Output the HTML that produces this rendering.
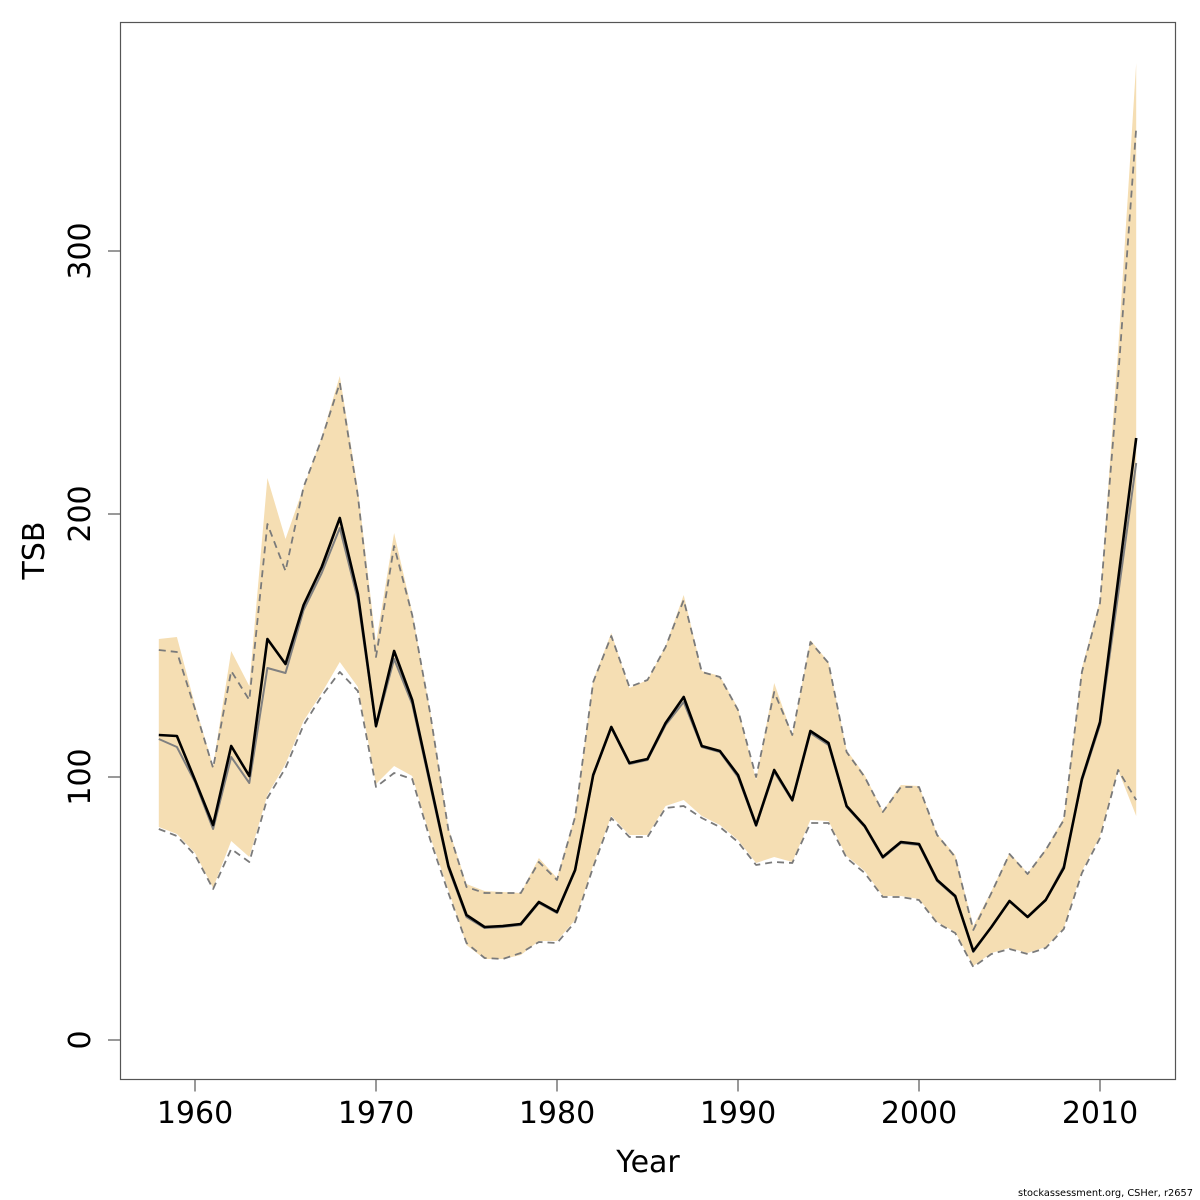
<!DOCTYPE html>
<html>
<head>
<meta charset="utf-8">
<style>
  html, body { margin:0; padding:0; background:#ffffff; }
  svg { display:block; }
  text { font-family: "DejaVu Sans", "Liberation Sans", sans-serif; fill:#000; }
</style>
</head>
<body>
<svg width="1200" height="1200" viewBox="0 0 1200 1200" xmlns="http://www.w3.org/2000/svg">
  <rect x="0" y="0" width="1200" height="1200" fill="#ffffff"/>

  <!-- confidence band fill -->
  <polygon fill="#F5DEB3" stroke="none" points="158.8,639 176.9,637 195,705 213.1,766 231.2,651 249.3,686 267.4,478 285.5,539 303.6,487 321.7,437 339.8,376 357.9,489 376,643 394.1,533 412.2,612 430.3,712 448.4,828 466.5,884 484.6,891 502.7,892 520.8,893 538.9,858 557,878 575.1,815 593.2,680 611.3,633 629.4,688 647.5,680 665.6,646 683.7,595 701.8,671 719.9,676 738,708 756.1,780 774.2,683 792.3,735 810.4,640 828.5,662 846.6,750 864.7,775 882.8,811 900.9,785 919,786 937.1,834 955.2,855 973.3,926 991.4,891 1009.5,853 1027.6,873 1045.7,849 1063.8,818 1081.9,668 1100,600 1118.1,350 1136.2,63 1136.2,816 1118.1,770 1100,836 1081.9,871 1063.8,928 1045.7,947 1027.6,953 1009.5,948 991.4,953 973.3,966 955.2,932 937.1,922 919,899 900.9,896 882.8,896 864.7,871 846.6,856 828.5,821 810.4,820 792.3,862 774.2,857 756.1,863 738,840 719.9,825 701.8,816 683.7,800 665.6,806 647.5,835 629.4,835 611.3,816 593.2,865 575.1,920 557,941 538.9,941 520.8,955 502.7,959 484.6,959 466.5,945 448.4,890 430.3,837 412.2,776 394.1,766 376,784 357.9,687 339.8,662 321.7,693 303.6,721 285.5,764 267.4,795 249.3,857 231.2,841 213.1,888 195,853 176.9,834 158.8,827"/>

  <!-- dashed upper -->
  <polyline fill="none" stroke="#7a7a7a" stroke-width="1.8" stroke-dasharray="7,5" stroke-linejoin="round" points="158.8,650 176.9,652 195,709 213.1,768 231.2,671 249.3,700 267.4,524 285.5,571 303.6,487 321.7,439 339.8,383 357.9,496 376,657 394.1,546 412.2,615 430.3,714 448.4,830 466.5,887 484.6,893 502.7,893 520.8,893 538.9,862 557,880 575.1,817 593.2,682 611.3,636 629.4,687 647.5,680 665.6,647 683.7,600 701.8,672 719.9,677 738,710 756.1,777 774.2,692 792.3,735 810.4,642 828.5,663 846.6,752 864.7,777 882.8,812 900.9,787 919,787 937.1,835 955.2,857 973.3,930 991.4,893 1009.5,854 1027.6,874 1045.7,850 1063.8,820 1081.9,672 1100,603 1118.1,378 1136.2,128"/>

  <!-- dashed lower -->
  <polyline fill="none" stroke="#7a7a7a" stroke-width="1.8" stroke-dasharray="7,5" stroke-linejoin="round" points="158.8,829 176.9,836 195,855 213.1,889 231.2,849 249.3,862 267.4,798 285.5,768 303.6,725 321.7,696 339.8,672 357.9,691 376,787 394.1,773 412.2,779 430.3,840 448.4,893 466.5,943 484.6,958 502.7,959 520.8,953 538.9,942 557,943 575.1,922 593.2,867 611.3,818 629.4,837 647.5,837 665.6,808 683.7,806 701.8,818 719.9,827 738,842 756.1,865 774.2,862 792.3,863 810.4,823 828.5,823 846.6,858 864.7,873 882.8,897 900.9,897 919,900 937.1,923 955.2,933 973.3,967 991.4,954 1009.5,949 1027.6,954 1045.7,948 1063.8,929 1081.9,873 1100,838 1118.1,770 1136.2,800"/>

  <!-- gray line -->
  <polyline fill="none" stroke="#808080" stroke-width="2" stroke-linejoin="round" points="158.8,739 176.9,747 195,782 213.1,829 231.2,757 249.3,783 267.4,668 285.5,673 303.6,610 321.7,573 339.8,528 357.9,600 376,727 394.1,659 412.2,704 430.3,786 448.4,868 466.5,917 484.6,928 502.7,927 520.8,925 538.9,903 557,913 575.1,871 593.2,776 611.3,728 629.4,764 647.5,760 665.6,725 683.7,702 701.8,747 719.9,752 738,777 756.1,826 774.2,772 792.3,801 810.4,733 828.5,745 846.6,807 864.7,827 882.8,858 900.9,843 919,845 937.1,881 955.2,897 973.3,952 991.4,927 1009.5,901 1027.6,917 1045.7,900 1063.8,866 1081.9,781 1100,725 1118.1,595 1136.2,463"/>

  <!-- black line -->
  <polyline fill="none" stroke="#000000" stroke-width="2.6" stroke-linejoin="round" points="158.8,735 176.9,736 195,780 213.1,825 231.2,746 249.3,776 267.4,639 285.5,664 303.6,605 321.7,567 339.8,518 357.9,594 376,726 394.1,651 412.2,700 430.3,783 448.4,866 466.5,915 484.6,927 502.7,926 520.8,924 538.9,902 557,912 575.1,870 593.2,775 611.3,727 629.4,763 647.5,759 665.6,723 683.7,697 701.8,746 719.9,751 738,775 756.1,825 774.2,770 792.3,800 810.4,731 828.5,743 846.6,806 864.7,826 882.8,857 900.9,842 919,844 937.1,880 955.2,896 973.3,951 991.4,927 1009.5,901 1027.6,917 1045.7,900 1063.8,868 1081.9,779 1100,722 1118.1,580 1136.2,438"/>

  <!-- plot box -->
  <rect x="120.5" y="22.5" width="1055" height="1057" fill="none" stroke="#555555" stroke-width="1.2"/>

  <!-- ticks -->
  <g stroke="#555555" stroke-width="1.2">
    <line x1="195" y1="1079.5" x2="195" y2="1091.5"/>
    <line x1="376" y1="1079.5" x2="376" y2="1091.5"/>
    <line x1="557" y1="1079.5" x2="557" y2="1091.5"/>
    <line x1="738" y1="1079.5" x2="738" y2="1091.5"/>
    <line x1="919" y1="1079.5" x2="919" y2="1091.5"/>
    <line x1="1100" y1="1079.5" x2="1100" y2="1091.5"/>
    <line x1="108" y1="1040" x2="120.5" y2="1040"/>
    <line x1="108" y1="777" x2="120.5" y2="777"/>
    <line x1="108" y1="514" x2="120.5" y2="514"/>
    <line x1="108" y1="251" x2="120.5" y2="251"/>
  </g>

  <!-- x tick labels -->
  <g font-size="30" text-anchor="middle">
    <text x="195" y="1123">1960</text>
    <text x="376" y="1123">1970</text>
    <text x="557" y="1123">1980</text>
    <text x="738" y="1123">1990</text>
    <text x="919" y="1123">2000</text>
    <text x="1100" y="1123">2010</text>
  </g>

  <!-- y tick labels -->
  <g font-size="30" text-anchor="middle">
    <text transform="translate(90,1040) rotate(-90)">0</text>
    <text transform="translate(90,777) rotate(-90)">100</text>
    <text transform="translate(90,514) rotate(-90)">200</text>
    <text transform="translate(90,251) rotate(-90)">300</text>
  </g>

  <!-- axis titles -->
  <text x="648" y="1172" font-size="30" text-anchor="middle">Year</text>
  <text transform="translate(44,550.5) rotate(-90)" font-size="30" text-anchor="middle">TSB</text>

  <!-- footer -->
  <text x="1193" y="1196" font-size="9.8" text-anchor="end">stockassessment.org, CSHer, r2657</text>
</svg>
</body>
</html>
